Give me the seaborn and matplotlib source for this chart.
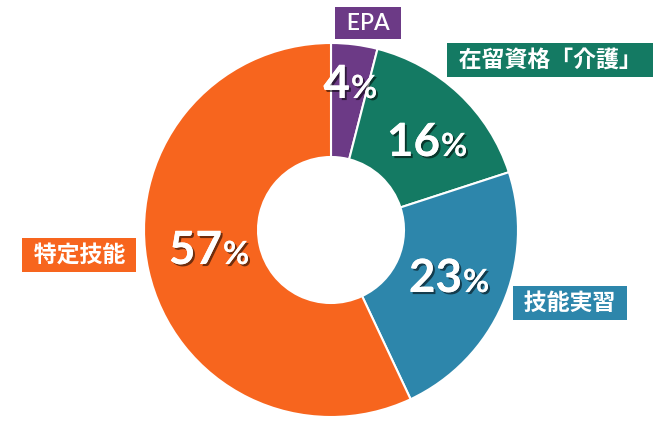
import matplotlib
matplotlib.use("Agg")
import matplotlib.pyplot as plt
import matplotlib.patheffects as pe
import seaborn as sns

# data (clockwise from top)
categories = ["EPA", "在留資格「介護」", "技能実習", "特定技能"]
shares = [4, 16, 23, 57]
colors = ["#6C3A86", "#147A63", "#2D86AB", "#F7651E"]

sns.set_theme(style="white")
plt.rcParams["font.family"] = ["Lato", "Noto Sans CJK JP", "DejaVu Sans"]

fig = plt.figure(figsize=(6.63, 4.28), dpi=100)
ax = fig.add_axes([0, 0, 1, 1])
ax.axis("off")

cx, cy, r = 331, 230, 187
ax.pie(shares, colors=colors, startangle=90, counterclock=False,
       center=(cx, -cy), radius=r,
       wedgeprops=dict(width=r - 73, edgecolor="white", linewidth=1.5))
# pie draws in y-up coordinates; flip patches into our inverted axis
for p in ax.patches:
    p.set_transform(matplotlib.transforms.Affine2D().scale(1, -1) + ax.transData)
ax.set_aspect("equal")
ax.set_xlim(0, 663)
ax.set_ylim(428, 0)

shadow = [pe.withSimplePatchShadow(offset=(1.5, -1.5), shadow_rgbFace="black", alpha=0.55),
          pe.Normal()]

# percent labels: number and a smaller % sign
pct_pos = [(350, 98), (440, 156), (462, 292), (222, 264)]
for v, (x, y) in zip(shares, pct_pos):
    ax.text(x, y, str(v), ha="right", va="baseline", color="white",
            fontsize=33, fontweight="bold", path_effects=shadow)
    ax.text(x + 1, y, "%", ha="left", va="baseline", color="white",
            fontsize=23, fontweight="bold", path_effects=shadow)

# category boxes
box_pos = [(368, 23), (550, 60), (570, 303), (79, 255)]
for name, col, (x, y) in zip(categories, colors, box_pos):
    ax.text(x, y, " " + name + " ", ha="center", va="center", color="white",
            fontsize=16.5, fontweight="semibold",
            bbox=dict(boxstyle="square,pad=0.25", fc=col, ec="none"))

fig.savefig("out.png", dpi=100)
